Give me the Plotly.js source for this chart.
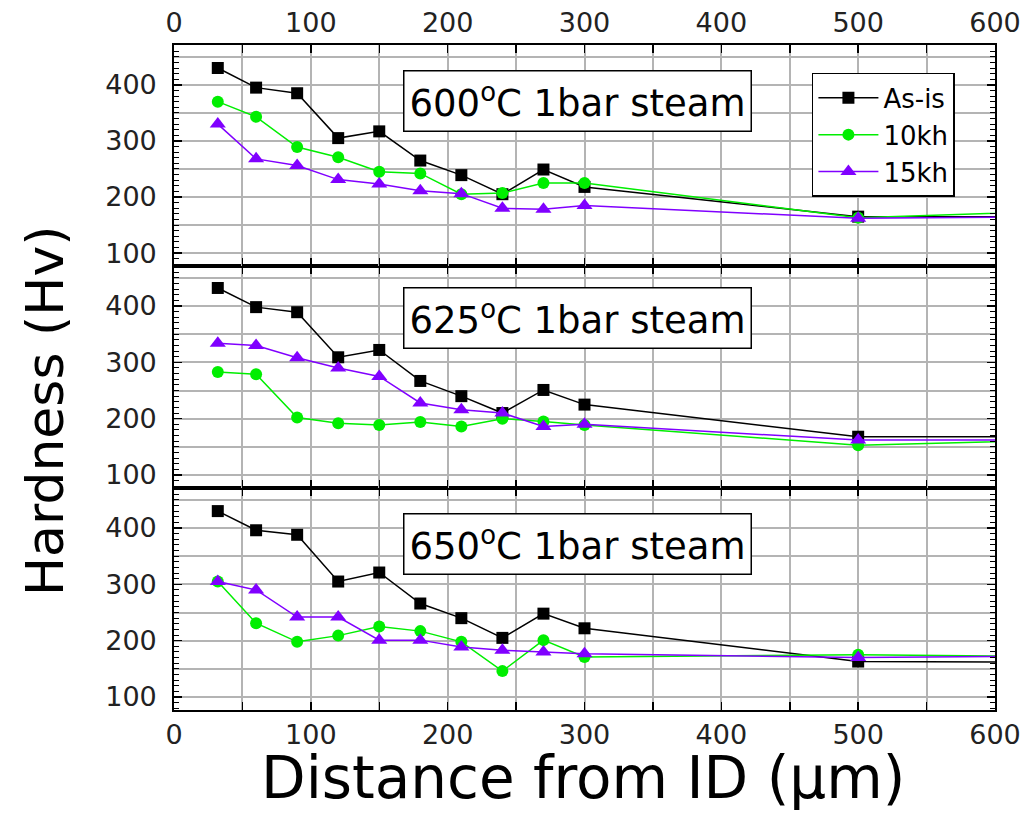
<!DOCTYPE html>
<html>
<head>
<meta charset="utf-8">
<script src="https://cdn.plot.ly/plotly-3.0.1.min.js"></script>
<style>html,body{margin:0;padding:0;background:#fff;}#chart{width:1025px;height:820px;}</style>
</head>
<body>
<div id="chart"></div>
<script>
// Distance from ID (µm); last point lies beyond the visible axis range (line continues to edge)
const dist = [32, 60, 90, 120, 150, 180, 210, 240, 270, 300, 500, 700];

// 600°C 1bar steam
const asis600 = [430, 395, 385, 305, 317, 265, 239, 205, 249, 218, 165, 165];
const kh10_600 = [370, 343, 289, 271, 245, 242, 205, 207, 225, 225, 163, 179];
const kh15_600 = [330, 268, 256, 231, 223, 211, 206, 180, 178, 185, 162, 166];
// 625°C 1bar steam
const asis625 = [432, 398, 389, 309, 322, 267, 240, 210, 251, 225, 168, 168];
const kh10_625 = [283, 279, 202, 192, 189, 194, 186, 200, 195, 189, 153, 165];
const kh15_625 = [334, 330, 308, 290, 275, 228, 216, 210, 186, 190, 162, 162];
// 650°C 1bar steam
const asis650 = [430, 396, 388, 305, 321, 266, 240, 205, 248, 222, 163, 161];
const kh10_650 = [305, 231, 198, 209, 225, 217, 198, 146, 201, 171, 175, 171];
const kh15_650 = [305, 290, 242, 242, 201, 201, 189, 183, 180, 177, 170, 174];

const seriesNames = ['As-is', '10kh', '15kh'];
const panelLabels = ['600<sup>o</sup>C 1bar steam', '625<sup>o</sup>C 1bar steam', '650<sup>o</sup>C 1bar steam'];

const colors = ['#000000', '#00ee00', '#8000ff'];
const symbols = ['square', 'circle', 'triangle-up'];
const sizes = [12, 12, 14];

const FONT = 'DejaVu Sans, Arial, sans-serif';
const Y_RANGE = [77, 471];

const panels = [
  {x: 'x3', y: 'y3', data: [asis600, kh10_600, kh15_600], legend: true},
  {x: 'x2', y: 'y2', data: [asis625, kh10_625, kh15_625], legend: false},
  {x: 'x', y: 'y', data: [asis650, kh10_650, kh15_650], legend: false}
];

const traces = [];
panels.forEach(p => {
  p.data.forEach((vals, i) => {
    traces.push({
      x: dist, y: vals, xaxis: p.x, yaxis: p.y,
      type: 'scatter', mode: 'lines+markers',
      name: seriesNames[i], showlegend: p.legend,
      line: {color: colors[i], width: 1.5},
      marker: {color: colors[i], symbol: symbols[i], size: sizes[i]}
    });
  });
});

function xAxis(anchor, side, labels) {
  return {
    anchor: anchor, side: side, range: [0, 600],
    dtick: 100, tick0: 0,
    showticklabels: labels,
    ticks: 'inside', ticklen: 8, tickwidth: 1.5, tickcolor: '#000',
    minor: {dtick: 50, ticks: 'inside', ticklen: 8, tickwidth: 1.5, tickcolor: '#000',
            showgrid: true, gridcolor: '#b4b4b4', gridwidth: 2},
    showline: true, linecolor: '#000', linewidth: 1.8, mirror: 'ticks',
    showgrid: true, gridcolor: '#b4b4b4', gridwidth: 2,
    zeroline: false,
    tickfont: {family: FONT, size: 27, color: '#222'},
    ticklabelstandoff: 0
  };
}
function yAxis(domain) {
  return {
    domain: domain, range: Y_RANGE,
    dtick: 100, tick0: 0,
    ticks: 'inside', ticklen: 8, tickwidth: 1.5, tickcolor: '#000',
    minor: {dtick: 10, ticks: 'inside', ticklen: 5, tickwidth: 1, tickcolor: '#000', showgrid: false},
    showline: true, linecolor: '#000', linewidth: 1.8, mirror: 'ticks',
    showgrid: true, gridcolor: '#b4b4b4', gridwidth: 2,
    zeroline: false,
    tickfont: {family: FONT, size: 27, color: '#222'},
    ticklabelstandoff: 10
  };
}
// overlay axes that only add the half-step (50 Hv) grid lines
function yGrid(over) {
  return {
    overlaying: over, range: Y_RANGE, dtick: 50, tick0: 0,
    showticklabels: false, ticks: '', showline: false, zeroline: false,
    showgrid: true, gridcolor: '#b4b4b4', gridwidth: 2
  };
}

const d1 = 222 / 665, d2 = 444 / 665;

const annotations = [];
const boxY = [371, 378, 372];
const boxAxes = [['x3', 'y3'], ['x2', 'y2'], ['x', 'y']];
panelLabels.forEach((t, i) => {
  annotations.push({
    text: t, xref: boxAxes[i][0], yref: boxAxes[i][1], x: 295, y: boxY[i],
    showarrow: false, font: {family: FONT, size: 37, color: '#000'},
    bgcolor: '#ffffff', bordercolor: '#000', borderwidth: 1.5, borderpad: 5
  });
});
annotations.push({
  text: 'Hardness (Hv)', xref: 'paper', yref: 'paper', x: -0.158, y: 0.45,
  textangle: -90, showarrow: false, xanchor: 'center', yanchor: 'middle',
  font: {family: FONT, size: 52, color: '#000'}
});
annotations.push({
  text: 'Distance from ID (\u03bcm)', xref: 'paper', yref: 'paper', x: 0.498, y: -0.102,
  showarrow: false, xanchor: 'center', yanchor: 'middle',
  font: {family: FONT, size: 58, color: '#000'}
});

const layout = {
  width: 1025, height: 820,
  margin: {l: 174, r: 30, t: 45, b: 110},
  paper_bgcolor: '#fff', plot_bgcolor: '#fff',
  showlegend: true,
  legend: {
    x: 0.777, y: 0.958, xanchor: 'left', yanchor: 'top',
    bgcolor: '#fff', bordercolor: '#000', borderwidth: 1.5,
    font: {family: FONT, size: 26, color: '#000'},
    itemwidth: 60, tracegroupgap: 0
  },
  xaxis: xAxis('y', 'bottom', true),
  xaxis2: xAxis('y2', 'bottom', false),
  xaxis3: xAxis('y3', 'top', true),
  yaxis: yAxis([0, d1]),
  yaxis2: yAxis([d1, d2]),
  yaxis3: yAxis([d2, 1]),
  yaxis4: yGrid('y'),
  yaxis5: yGrid('y2'),
  yaxis6: yGrid('y3'),
  annotations: annotations
};

// invisible helper traces so the grid-only overlay axes are drawn
['y4', 'y5', 'y6'].forEach((ya, k) => {
  traces.unshift({x: [], y: [], xaxis: ['x', 'x2', 'x3'][k], yaxis: ya, type: 'scatter',
                  mode: 'markers', showlegend: false, hoverinfo: 'skip'});
});

Plotly.newPlot('chart', traces, layout, {displayModeBar: false, staticPlot: true});
</script>
</body>
</html>
